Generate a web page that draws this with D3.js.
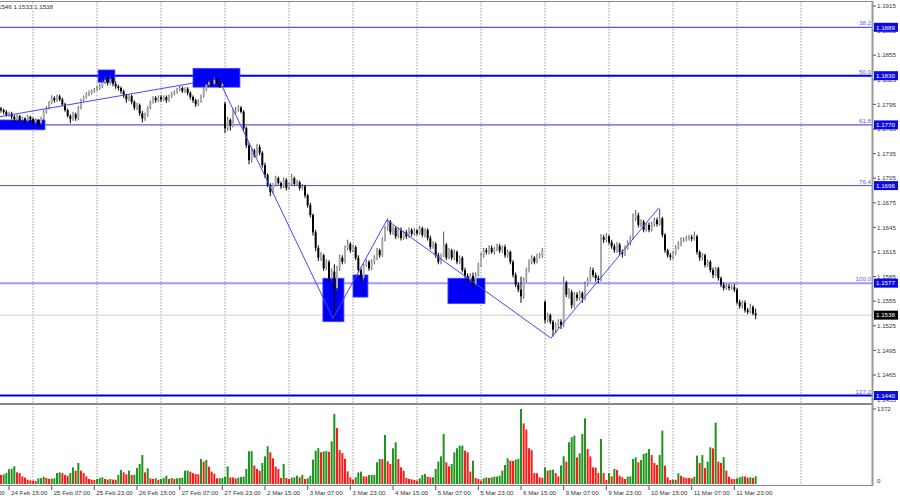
<!DOCTYPE html>
<html>
<head>
<meta charset="utf-8">
<script src="https://cdn.jsdelivr.net/npm/d3@7"></script>
<style>
  body { margin: 0; background: #fff; }
  svg { display: block; font-family: "Liberation Sans", Arial, sans-serif; }
</style>
</head>
<body>
<div id="chart"></div>
<script>
"use strict";

// EURUSD H1, one entry per bar (first bar = 24 Feb 12:00)
// prices kept as points above 1.1000 : 788 -> 1.1788
const opens = [
790,788,786,782,784,780,777,781,776,778, 775,780,777,773,776,772,778,786,791,797,
803,800,805,801,795,788,781,777,783,778, 791,800,804,808,809,811,813,815,817,822,
825,821,826,820,817,815,811,806,801,805, 798,791,794,784,778,782,791,798,803,800,
804,801,804,800,805,808,810,813,815,811, 814,809,804,800,795,799,805,813,819,822,
820,825,821,817,796,766,776,769,786,788, 791,786,766,745,727,739,733,743,736,721,
709,697,688,697,705,699,695,703,693,698, 705,698,700,693,695,684,672,660,639,620,
608,611,595,603,583,591,571,595,608,603, 620,625,617,621,608,593,583,599,603,595,
603,608,617,611,630,644,652,639,644,634, 642,632,639,634,642,637,641,638,644,636,
642,632,621,625,611,603,611,624,608,617, 608,615,603,608,593,586,581,586,576,587,
599,611,617,615,620,615,619,622,617,621, 611,615,603,587,575,569,561,581,593,603,
608,603,610,611,554,532,538,530,520,526, 530,526,578,563,566,550,563,559,565,559,
576,581,593,587,583,581,633,630,634,627, 622,617,624,615,613,620,626,632,656,660,
648,652,642,648,642,649,654,649,656,636, 617,611,609,613,620,625,630,630,632,633,
631,634,615,608,611,599,603,593,587,595, 583,575,571,573,571,572,569,554,549,553,
544,542,548,540
];
const highs = [
792,790,788,786,786,782,783,782,780,779, 782,781,779,778,777,780,788,793,799,806,
805,807,807,803,797,790,783,786,785,793, 802,806,810,812,813,815,818,820,825,829,
828,830,828,823,819,817,813,808,807,807, 800,797,796,787,785,793,800,805,805,806,
806,806,806,807,810,812,815,818,817,816, 816,811,806,802,801,807,815,821,825,824,
829,827,823,822,798,780,778,790,792,794, 793,788,768,748,742,741,747,746,738,724,
711,699,699,708,707,701,706,705,700,710, 707,703,702,698,697,686,675,662,642,623,
615,613,606,605,595,600,598,612,611,623, 630,627,624,623,611,596,601,606,605,606,
611,620,619,633,647,656,654,647,646,645, 645,641,642,645,644,644,643,647,646,644,
644,635,628,627,614,613,640,626,620,619, 618,617,611,610,596,589,589,590,590,602,
614,620,620,623,623,621,625,625,623,624, 618,617,605,590,578,585,584,596,606,611,
610,613,614,620,556,541,540,532,529,533, 533,585,580,571,569,566,566,568,567,579,
584,597,596,590,586,637,636,638,636,630, 625,627,626,618,623,629,635,662,666,663,
655,654,650,651,652,657,657,668,658,638, 619,614,616,623,628,633,633,635,636,636,
640,636,617,614,613,606,605,596,597,597, 585,578,576,576,575,576,571,557,556,556,
547,552,550,546
];
const lows = [
785,783,780,780,777,774,775,774,775,771, 773,775,770,771,768,770,776,784,789,795,
797,798,799,793,786,779,772,775,775,776, 789,798,802,805,807,809,811,813,815,820,
818,819,817,814,812,808,803,797,799,795, 788,788,781,773,775,780,789,796,797,798,
798,799,797,798,803,806,808,811,809,809, 806,801,797,792,793,797,803,811,817,817,
818,819,815,815,760,763,763,767,783,786, 784,763,742,722,724,730,731,733,718,705,
694,683,686,695,697,692,693,690,691,696, 696,696,690,691,681,669,657,635,616,604,
604,592,593,580,580,534,568,592,600,601, 617,614,615,605,590,579,580,597,592,593,
600,605,608,609,628,641,636,636,631,632, 629,630,631,632,634,635,635,636,633,633,
629,618,619,608,600,600,609,605,606,605, 605,600,600,590,583,577,578,572,574,585,
597,608,612,612,613,612,616,614,614,608, 608,600,584,572,566,553,558,578,590,600,
600,601,607,608,528,529,527,512,516,522, 521,523,560,558,546,547,555,556,553,556,
573,579,584,579,577,579,626,627,624,619, 614,614,611,608,610,618,623,630,653,645,
645,639,640,639,640,646,646,647,633,614, 608,605,606,611,618,622,627,628,629,628,
629,612,604,605,596,597,590,583,585,580, 572,568,569,568,569,566,551,546,546,541,
539,540,538,533
];
const closes = [
788,786,782,784,780,777,781,776,778,775, 780,777,773,776,772,778,786,791,797,803,
800,805,801,795,788,781,777,783,778,791, 800,804,808,809,811,813,815,817,822,825,
821,826,820,817,815,811,806,801,805,798, 791,794,784,778,782,791,798,803,800,804,
801,804,800,805,808,810,813,815,811,814, 809,804,800,795,799,805,813,819,822,820,
825,821,817,820,766,776,769,786,788,791, 786,766,745,727,739,733,743,736,721,709,
697,688,697,705,699,695,703,693,698,705, 698,700,693,695,684,672,660,639,620,608,
611,595,603,583,591,571,595,608,603,620, 625,617,621,608,593,583,599,603,595,603,
608,617,611,630,644,652,639,644,634,642, 632,639,634,642,637,641,638,644,636,642,
632,621,625,611,603,611,624,608,617,608, 615,603,608,593,586,581,586,576,587,599,
611,617,615,620,615,619,622,617,621,611, 615,603,587,575,569,561,581,593,603,608,
603,610,611,617,532,538,530,520,526,530, 526,578,563,566,550,563,559,565,559,576,
581,593,587,583,581,633,630,634,627,622, 617,624,615,613,620,626,632,656,660,648,
652,642,648,642,649,654,649,656,636,617, 611,609,613,620,625,630,630,632,633,631,
634,615,608,611,599,603,593,587,595,583, 575,571,573,571,572,569,554,549,553,544,
542,548,540,538
];
const volumes = [
165,175,200,270,280,323,213,200,140,116, 80,67,61,55,104,106,134,110,95,100,
104,200,213,200,165,152,200,305,244,385, 244,200,140,92,80,73,92,110,122,92,
80,92,80,78,165,256,213,177,244,165, 170,293,366,530,213,287,104,92,104,80,
92,110,152,92,110,92,104,110,116,244, 246,226,200,183,177,458,409,440,317,226,
189,104,106,110,134,323,122,120,104,116, 128,134,275,598,600,336,275,244,385,506,
690,580,470,317,275,110,366,110,92,116, 122,152,122,165,92,104,152,445,610,655,
580,595,600,590,780,1280,1025,620,567,458, 232,122,80,122,213,226,140,138,165,166,
167,397,458,455,897,415,366,653,763,458, 305,244,110,92,85,73,61,104,165,183,
134,122,124,275,409,506,915,397,323,366, 580,653,700,702,610,580,226,427,110,92,
61,104,122,110,122,134,136,152,244,348, 470,427,420,445,460,1372,1110,995,653,620,
200,198,122,115,305,244,256,262,200,140, 340,506,409,763,855,885,488,561,915,1200,
640,506,305,300,200,823,200,73,200,140, 275,256,152,122,92,134,140,458,488,397,
440,550,567,640,530,385,348,530,976,336, 122,73,80,78,195,152,122,110,108,106,
134,519,385,530,293,409,671,653,1122,409, 385,488,244,134,92,90,104,122,140,138,
116,122,110,140
];

const timeLabels = [
  "23 Feb 23:00", "24 Feb 15:00", "25 Feb 07:00", "25 Feb 23:00", "26 Feb 15:00",
  "27 Feb 07:00", "27 Feb 23:00", "2 Mar 15:00", "3 Mar 07:00", "3 Mar 23:00",
  "4 Mar 15:00", "5 Mar 07:00", "5 Mar 23:00", "6 Mar 15:00", "9 Mar 07:00",
  "9 Mar 23:00", "10 Mar 15:00", "11 Mar 07:00", "11 Mar 23:00"
];
const firstLabelBar = -13;   // bar of the first time label, one label every 16 bars
const priceTicks = ["1.1915","1.1885","1.1855","1.1825","1.1795","1.1765","1.1735","1.1705",
  "1.1675","1.1645","1.1615","1.1585","1.1555","1.1525","1.1495","1.1465","1.1435"];

const fibNames = ["38.2", "50.0", "61.8", "76.4", "100.0", "127.2"];
const fibPrices = [1.1889, 1.1830, 1.1770, 1.1696, 1.1577, 1.1440];

// blue zones: bar from, bar to, top, bottom (points)
const zoneFrom = [-1, 36.4, 72, 120.7, 132, 167.6];
const zoneTo = [16.5, 42.7, 89.6, 128.6, 137.6, 181.5];
const zoneTop = [776, 837, 839, 583, 587, 583];
const zoneBottom = [764, 822, 816, 530, 560, 552];

// hand drawn lines: [bar, points]
const trendLine = [[-0.4, 780], [72, 821]];
const waveLine = [[83.2, 815], [124.5, 534], [144.7, 654], [206.2, 510], [246.7, 669]];

const volMax = 1372;

const toPrice = p => 1.1 + p / 10000;

const W = 900, H = 500;
const axisX = 872;
const mainTop = 2, mainBottom = 403;
const volTop = 405, volBottom = 485;

const svg = d3.select("#chart").append("svg")
    .attr("width", W)
    .attr("height", H);

svg.append("rect").attr("width", W).attr("height", H).attr("fill", "#fff");

var x = d3.scaleLinear().domain([0, 300]).range([1, 801]);
var y = d3.scaleLinear().domain([1.1915, 1.1435]).range([6, 399.6]);
var yv = d3.scaleLinear().domain([0, volMax]).range([484, 409]);

const defs = svg.append("defs");
defs.append("clipPath").attr("id", "mainClip")
  .append("rect").attr("x", 0).attr("y", mainTop).attr("width", axisX).attr("height", mainBottom - mainTop);
defs.append("clipPath").attr("id", "volClip")
  .append("rect").attr("x", 0).attr("y", volTop).attr("width", axisX).attr("height", volBottom - volTop);

// day grid (dotted)
svg.append("g").selectAll("line")
    .data(d3.range(12, 301, 24))
  .enter().append("line")
    .attr("x1", d => x(d)).attr("x2", d => x(d))
    .attr("y1", mainTop).attr("y2", volBottom)
    .attr("stroke", "#9a9a9a")
    .attr("stroke-width", 1)
    .attr("stroke-dasharray", "1.5,1.5");

const main = svg.append("g").attr("clip-path", "url(#mainClip)");

// current price line
const last = closes.length - 1;
main.append("line")
    .attr("x1", 0).attr("x2", axisX)
    .attr("y1", y(toPrice(closes[last]))).attr("y2", y(toPrice(closes[last])))
    .attr("stroke", "#d0d0d0").attr("stroke-width", 1);

// fibo levels
const fibColor = ["#2c2ce8", "#0000f0", "#2c2ce8", "#4a4aee", "#9a9aff", "#0000d8"];
const fibWidth = [1, 2, 1, 1, 2, 2];
main.append("g").selectAll("line")
    .data(fibPrices)
  .enter().append("line")
    .attr("x1", 0).attr("x2", axisX)
    .attr("y1", d => y(d)).attr("y2", d => y(d))
    .attr("stroke", (d, i) => fibColor[i])
    .attr("stroke-width", (d, i) => fibWidth[i]);

// zones
main.append("g").selectAll("rect")
    .data(zoneFrom)
  .enter().append("rect")
    .attr("x", (d, i) => x(zoneFrom[i]))
    .attr("width", (d, i) => x(zoneTo[i]) - x(zoneFrom[i]))
    .attr("y", (d, i) => y(toPrice(zoneTop[i])))
    .attr("height", (d, i) => y(toPrice(zoneBottom[i])) - y(toPrice(zoneTop[i])))
    .attr("fill", "#0000f5")
    .attr("stroke", "#4a4aff")
    .attr("stroke-width", 0.8);

// candles
const candles = main.append("g").selectAll("g")
    .data(closes)
  .enter().append("g");

candles.append("line")
    .attr("x1", (d, i) => x(i)).attr("x2", (d, i) => x(i))
    .attr("y1", (d, i) => y(toPrice(highs[i])))
    .attr("y2", (d, i) => y(toPrice(lows[i])))
    .attr("stroke", (d, i) => closes[i] >= opens[i] ? "#555" : "#000")
    .attr("stroke-width", 1);

candles.append("rect")
    .attr("x", (d, i) => x(i) - 1)
    .attr("width", 2)
    .attr("y", (d, i) => y(toPrice(Math.max(opens[i], closes[i]))))
    .attr("height", (d, i) => Math.max(1, Math.abs(y(toPrice(opens[i])) - y(toPrice(closes[i])))))
    .attr("fill", (d, i) => closes[i] >= opens[i] ? "#ababab" : "#000");

// trend lines
const line = d3.line()
    .x(d => x(d[0]))
    .y(d => y(toPrice(d[1])));

main.append("path").datum(trendLine)
    .attr("d", line).attr("fill", "none")
    .attr("stroke", "#4646ff").attr("stroke-width", 1);
main.append("path").datum(waveLine)
    .attr("d", line).attr("fill", "none")
    .attr("stroke", "#4646ff").attr("stroke-width", 1);

// fibo labels
main.append("g").selectAll("text")
    .data(fibNames)
  .enter().append("text")
    .attr("x", axisX - 1)
    .attr("y", (d, i) => y(fibPrices[i]) - 2)
    .attr("text-anchor", "end")
    .attr("font-size", 6.2)
    .attr("fill", "#5a5aff")
    .text(d => d);

// volumes
svg.append("g").attr("clip-path", "url(#volClip)")
  .selectAll("rect")
    .data(volumes)
  .enter().append("rect")
    .attr("x", (d, i) => x(i) - 1)
    .attr("width", 2)
    .attr("y", d => yv(d))
    .attr("height", d => yv(0) - yv(d))
    .attr("fill", (d, i) => (i > 0 && d > volumes[i - 1]) ? "#1f941f" : "#ff1a1a");

// frame
svg.append("line").attr("x1", 0).attr("x2", axisX).attr("y1", 1.5).attr("y2", 1.5)
    .attr("stroke", "#8a8a8a").attr("stroke-width", 1);
svg.append("line").attr("x1", 0).attr("x2", axisX + 1).attr("y1", 404).attr("y2", 404)
    .attr("stroke", "#888").attr("stroke-width", 2);
svg.append("line").attr("x1", 0).attr("x2", axisX + 1).attr("y1", 485.5).attr("y2", 485.5)
    .attr("stroke", "#888").attr("stroke-width", 1);
svg.append("line").attr("x1", axisX + 0.5).attr("x2", axisX + 0.5).attr("y1", 1).attr("y2", 486)
    .attr("stroke", "#999").attr("stroke-width", 2);

// price axis
const axisG = svg.append("g")
    .attr("font-size", 6.2)
    .attr("fill", "#333");

axisG.selectAll("line.tick")
    .data(priceTicks)
  .enter().append("line")
    .attr("class", "tick")
    .attr("x1", axisX + 1).attr("x2", axisX + 4)
    .attr("y1", d => y(+d)).attr("y2", d => y(+d))
    .attr("stroke", "#555");

axisG.selectAll("text.ptick")
    .data(priceTicks)
  .enter().append("text")
    .attr("class", "ptick")
    .attr("x", axisX + 5)
    .attr("y", d => y(+d) + 2.2)
    .text(d => d);

// fibo price boxes
const fibBoxes = svg.append("g").selectAll("g")
    .data(fibPrices)
  .enter().append("g");
fibBoxes.append("rect")
    .attr("x", axisX + 2).attr("width", 24)
    .attr("y", d => y(d) - 4.5).attr("height", 9)
    .attr("fill", "#0a0ae6");
fibBoxes.append("text")
    .attr("x", axisX + 4).attr("y", d => y(d) + 2.3)
    .attr("font-size", 6.2).attr("fill", "#fff")
    .text(d => d.toFixed(4));

// current price box
const lastPrice = toPrice(closes[last]);
svg.append("rect")
    .attr("x", axisX + 2).attr("width", 24)
    .attr("y", y(lastPrice) - 4.5).attr("height", 9)
    .attr("fill", "#000");
svg.append("text")
    .attr("x", axisX + 4).attr("y", y(lastPrice) + 2.3)
    .attr("font-size", 6.2).attr("fill", "#fff")
    .text(lastPrice.toFixed(4));

// volume axis
axisG.append("text").attr("x", axisX + 5).attr("y", yv(volMax) + 2.2).text(volMax);
axisG.append("text").attr("x", axisX + 5).attr("y", yv(0) - 0.8).text("0");
axisG.append("line").attr("x1", axisX + 1).attr("x2", axisX + 4)
    .attr("y1", yv(volMax)).attr("y2", yv(volMax)).attr("stroke", "#555");

// time axis
const timeG = svg.append("g").attr("font-size", 6.2).attr("fill", "#333");
timeG.selectAll("line")
    .data(timeLabels)
  .enter().append("line")
    .attr("x1", (d, k) => x(firstLabelBar + 16 * k))
    .attr("x2", (d, k) => x(firstLabelBar + 16 * k))
    .attr("y1", 486).attr("y2", 490)
    .attr("stroke", "#555");
timeG.selectAll("text")
    .data(timeLabels)
  .enter().append("text")
    .attr("x", (d, k) => x(firstLabelBar + 16 * k) + 2)
    .attr("y", 494.5)
    .text(d => d);

// OHLC of the last bar, cut at the left edge
svg.append("text")
    .attr("x", 53).attr("y", 8.5)
    .attr("text-anchor", "end")
    .attr("font-size", 6.2).attr("fill", "#333")
    .text([opens[last], highs[last], lows[last], closes[last]].map(p => toPrice(p).toFixed(4)).join(" "));
</script>
</body>
</html>
